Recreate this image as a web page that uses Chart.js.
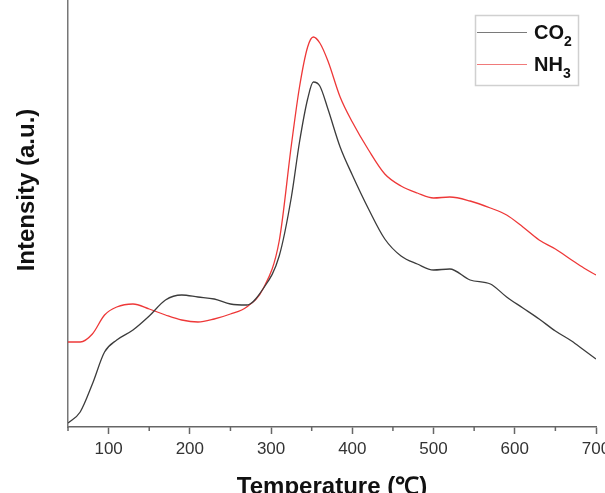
<!DOCTYPE html>
<html>
<head>
<meta charset="utf-8">
<script src="https://cdn.jsdelivr.net/npm/chart.js@4"></script>
<style>
  html, body { margin: 0; padding: 0; background: #fff; overflow: hidden; }
  #wrap { width: 605px; height: 493px; position: relative; }
</style>
</head>
<body>
<div id="wrap"><canvas id="tpdChart"></canvas></div>
<script>
// temperature points (℃)
const temperatures = [
    50, 65, 80, 95, 110, 130, 150, 170, 190, 210, 230, 250, 270, 290, 310,
    325, 335, 345, 352, 360, 370, 385, 400, 420, 440, 460, 480, 500, 520,
    545, 570, 590, 610, 630, 650, 670, 685, 700,
];
// intensity in arbitrary units
const co2Signal = [
    4, 15, 43, 75, 87, 97, 111, 127, 132, 130, 128, 123, 122, 138, 171,
    230, 285, 328, 345, 341, 318, 280, 252, 218, 188, 171, 163, 157, 158,
    147, 143, 130, 119, 108, 96, 86, 77, 68,
];
const nh3Signal = [
    85, 85, 93, 112, 120, 123, 118, 112, 107, 105, 108, 113, 120, 138, 186,
    282, 340, 380, 390, 384, 366, 330, 305, 277, 253, 241, 234, 229, 230,
    226, 219, 212, 200, 187, 178, 167, 159, 152,
];
const seriesLabels = ["CO₂", "NH₃"];
const majorTicks = [100, 200, 300, 400, 500, 600, 700];
const minorTicks = [50, 150, 250, 350, 450, 550, 650];

const fontFamily = '"Liberation Sans", Arial, Helvetica, sans-serif';
const subDigits = "₀₁₂₃₄₅₆₇₈₉";

// small ticks between the labelled ones
const minorTickPlugin = {
    id: "minorTicks",
    afterDraw(chart) {
        const x = chart.scales.x;
        const c = chart.ctx;
        c.save();
        c.strokeStyle = "#666";
        c.lineWidth = 1.5;
        minorTicks.forEach((v) => {
            const px = x.getPixelForValue(v);
            c.beginPath();
            c.moveTo(px, x.top);
            c.lineTo(px, x.top + 4);
            c.stroke();
        });
        c.restore();
    },
};

// y title sits a bit above the middle of the axis in the original
const yTitlePlugin = {
    id: "yTitle",
    afterDraw(chart) {
        const c = chart.ctx;
        c.save();
        c.translate(27.5, 190);
        c.rotate(-Math.PI / 2);
        c.fillStyle = "#111";
        c.font = "bold 24px " + fontFamily;
        c.textAlign = "center";
        c.textBaseline = "middle";
        c.fillText("Intensity (a.u.)", 0, 0);
        c.restore();
    },
};

// boxed legend in the top right corner, subscripts drawn smaller and lower
const boxLegendPlugin = {
    id: "boxLegend",
    afterDraw(chart) {
        const c = chart.ctx;
        const rows = [32, 64];
        const lineColors = ["#7a7a7a", "#f07a7a"];
        c.save();
        c.strokeStyle = "#d0d0d0";
        c.lineWidth = 1.5;
        c.strokeRect(475.5, 15.5, 103, 70);
        chart.data.datasets.forEach((ds, i) => {
            c.strokeStyle = lineColors[i];
            c.lineWidth = 1.2;
            c.beginPath();
            c.moveTo(477, rows[i] + 0.5);
            c.lineTo(527, rows[i] + 0.5);
            c.stroke();

            const base = ds.label.replace(/[₀-₉]/g, "");
            const sub = ds.label
                .split("")
                .filter((ch) => subDigits.includes(ch))
                .map((ch) => subDigits.indexOf(ch))
                .join("");
            const baseline = rows[i] + 7;
            c.fillStyle = "#111";
            c.textAlign = "left";
            c.textBaseline = "alphabetic";
            c.font = "bold 20px " + fontFamily;
            c.fillText(base, 534, baseline);
            const w = c.measureText(base).width;
            c.font = "bold 14px " + fontFamily;
            c.fillText(sub, 534 + w, baseline + 6.5);
        });
        c.restore();
    },
};

document.addEventListener("DOMContentLoaded", function () {
    const ctx = document.getElementById("tpdChart");
    new Chart(ctx, {
        type: "line",
        data: {
            labels: temperatures,
            datasets: [
                {
                    label: seriesLabels[0],
                    data: temperatures.map((t, i) => ({ x: t, y: co2Signal[i] })),
                    borderColor: "#3c3c3c",
                    borderWidth: 1.3,
                    pointRadius: 0,
                    cubicInterpolationMode: "monotone",
                    fill: false,
                },
                {
                    label: seriesLabels[1],
                    data: temperatures.map((t, i) => ({ x: t, y: nh3Signal[i] })),
                    borderColor: "#ee3838",
                    borderWidth: 1.3,
                    pointRadius: 0,
                    cubicInterpolationMode: "monotone",
                    fill: false,
                },
            ],
        },
        options: {
            responsive: true,
            maintainAspectRatio: false,
            animation: false,
            layout: { padding: { left: 0, right: 9, top: 0, bottom: 0 } },
            plugins: {
                legend: { display: false },
                tooltip: { enabled: false },
            },
            scales: {
                x: {
                    type: "linear",
                    min: 50,
                    max: 700,
                    border: { color: "#666", width: 1.5 },
                    grid: {
                        drawOnChartArea: false,
                        drawTicks: true,
                        tickLength: 7,
                        tickWidth: 1.5,
                        tickColor: (c) =>
                            majorTicks.includes(c.tick.value) ? "#666" : "rgba(0,0,0,0)",
                    },
                    ticks: {
                        stepSize: 50,
                        autoSkip: false,
                        maxRotation: 0,
                        padding: 5,
                        color: "#333",
                        font: { family: fontFamily, size: 17 },
                        callback: (v) => (majorTicks.includes(v) ? String(v) : ""),
                    },
                    title: {
                        display: true,
                        text: "Temperature (℃)",
                        color: "#111",
                        font: { family: fontFamily, size: 24, weight: "bold", lineHeight: 0.45 },
                        padding: { top: 0, bottom: 0 },
                    },
                    afterFit(scale) {
                        scale.height = 66;
                        scale.paddingLeft = 0;
                        scale.paddingRight = 0;
                    },
                },
                y: {
                    min: 0,
                    max: 427,
                    border: { color: "#777", width: 1.5 },
                    grid: { display: false, drawTicks: false },
                    ticks: { display: false },
                    title: { display: false },
                    afterFit(scale) {
                        scale.width = 68;
                        scale.paddingTop = 0;
                        scale.paddingBottom = 0;
                    },
                },
            },
        },
        plugins: [minorTickPlugin, yTitlePlugin, boxLegendPlugin],
    });
});
</script>
</body>
</html>
